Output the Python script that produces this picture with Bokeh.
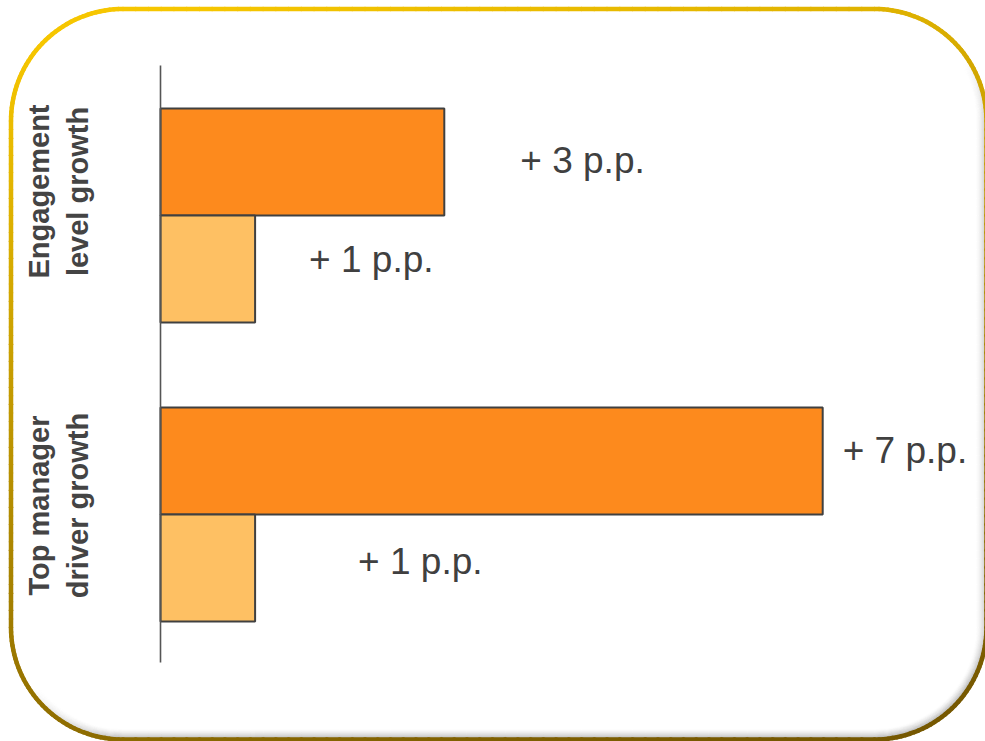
import numpy as np
from bokeh.plotting import figure
from bokeh.models import Range1d, ColumnDataSource
from bokeh.core.properties import value
from bokeh.embed import file_html
from bokeh.resources import INLINE

# ---- data -------------------------------------------------------------
categories = ["Engagement\nlevel growth", "Top manager\ndriver growth"]
dark_values = [3, 7]      # upper bar of each group
light_values = [1, 1]     # lower bar of each group
dark_labels = ["+ 3 p.p.", "+ 7 p.p."]
light_labels = ["+ 1 p.p.", "+ 1 p.p."]

# ---- layout constants (pixels) ----------------------------------------
W, H = 985, 741
X0_PX = 160          # pixel column of the value axis (zero)
PX_PER_UNIT = 94.6   # horizontal pixels per percentage point
Y0_PX = 215          # pixel row of the first group centre
PX_PER_GROUP = 299   # vertical distance between group centres
BAR_PX = 107         # bar thickness

def px2x(px):
    return (px - X0_PX) / PX_PER_UNIT

def py2y(py):
    return (py - Y0_PX) / PX_PER_GROUP

bar_h = BAR_PX / PX_PER_GROUP
half = bar_h / 2

p = figure(width=W, height=H, output_backend="svg", toolbar_location=None,
           x_range=Range1d(px2x(0), px2x(W)),
           y_range=Range1d(py2y(H), py2y(0)),
           x_axis_type=None, y_axis_type=None, min_border=0,
           outline_line_color=None, background_fill_color="white",
           border_fill_color="white")
p.grid.visible = False

# ---- rounded frame with gold gradient and soft inner shadow ------------
def rounded_path(L, T, R, B, r, n_arc=40, n_side=60):
    pts = []
    def arc(cx, cy, a0, a1):
        for a in np.linspace(a0, a1, n_arc):
            pts.append((cx + r * np.cos(a), cy + r * np.sin(a)))
    def line(x0, y0, x1, y1):
        for t in np.linspace(0, 1, n_side)[1:-1]:
            pts.append((x0 + (x1 - x0) * t, y0 + (y1 - y0) * t))
    # screen coords: y grows downward
    arc(L + r, T + r, np.pi, 1.5 * np.pi)
    line(L + r, T, R - r, T)
    arc(R - r, T + r, 1.5 * np.pi, 2 * np.pi)
    line(R, T + r, R, B - r)
    arc(R - r, B - r, 0, 0.5 * np.pi)
    line(R - r, B, L + r, B)
    arc(L + r, B - r, 0.5 * np.pi, np.pi)
    line(L, B - r, L, T + r)
    pts.append(pts[0])
    return np.array(pts)

L, T, R, B, RAD = 10.5, 8.5, 986.0, 739.0, 112

# inner shadow along the lower and right edges
sh_xs, sh_ys, sh_alpha = [], [], []
for k in range(1, 11):
    path = rounded_path(L + k, T + k, R - k, B - k, RAD - k)
    for i in range(len(path) - 1):
        (xa, ya), (xb, yb) = path[i], path[i + 1]
        dx, dy = xb - xa, yb - ya
        n = np.hypot(dx, dy) or 1
        nx, ny = dy / n, -dx / n        # outward normal
        w = max(0.0, 0.6 * nx + 0.9 * ny)
        w = min(w, 1.0)
        if w <= 0:
            continue
        sh_xs.append([px2x(xa), px2x(xb)])
        sh_ys.append([py2y(ya), py2y(yb)])
        sh_alpha.append(0.38 * w * (1 - k / 11) ** 1.6)
p.multi_line(xs=sh_xs, ys=sh_ys, line_color="#5a5a5a", line_alpha=sh_alpha,
             line_width=1.6)

path = rounded_path(L, T, R, B, RAD)
gold = np.array([246, 198, 0])
dark = np.array([118, 88, 0])
fx, fy, fc = [], [], []
for i in range(len(path) - 1):
    (xa, ya), (xb, yb) = path[i], path[i + 1]
    mx, my = (xa + xb) / 2, (ya + yb) / 2
    t = 0.85 * (my - T) / (B - T) + 0.25 * (mx - L) / (R - L) - 0.05
    t = float(np.clip(t, 0, 1))
    c = (gold * (1 - t) + dark * t).astype(int)
    fx.append([px2x(xa), px2x(xb)])
    fy.append([py2y(ya), py2y(yb)])
    fc.append("#%02x%02x%02x" % tuple(c))
p.multi_line(xs=fx, ys=fy, line_color=fc, line_width=4.5, line_cap="round")

# ---- bars ---------------------------------------------------------------
groups = np.arange(len(categories), dtype=float)
dark_src = ColumnDataSource(dict(y=groups - half, right=dark_values))
light_src = ColumnDataSource(dict(y=groups + half, right=light_values))
p.hbar(y="y", left=0, right="right", height=bar_h, source=dark_src,
       fill_color="#fd8a1d", line_color="#404040", line_width=2)
p.hbar(y="y", left=0, right="right", height=bar_h, source=light_src,
       fill_color="#fec063", line_color="#404040", line_width=2)

# value axis line
p.segment(x0=0, y0=py2y(65), x1=0, y1=py2y(662), line_color="#555555",
          line_width=1.6)

# ---- value labels ----------------------------------------------------------
dark_dx = [76, 20]       # pixel gap between bar end and label
light_dx = [54, 103]
dark_dy = [-2, -11]      # small vertical nudges (pixels)
light_dy = [-10, -7]
lab_src = ColumnDataSource(dict(
    x=list(dark_values) + list(light_values),
    y=[g - half + d / PX_PER_GROUP for g, d in zip(groups, dark_dy)] +
      [g + half + d / PX_PER_GROUP for g, d in zip(groups, light_dy)],
    dx=dark_dx + light_dx,
    text=dark_labels + light_labels,
))
p.text(x="x", y="y", text="text", x_offset="dx", source=lab_src,
       text_align="left", text_baseline="middle",
       text_font=value("Liberation Sans"), text_font_size="37px",
       text_color="#404040")

# ---- category labels (rotated) --------------------------------------------
cat_shift_px = [-24, -9]
p.text(x=[px2x(58)] * len(categories),
       y=[g + s / PX_PER_GROUP for g, s in zip(groups, cat_shift_px)],
       text=categories, angle=np.pi / 2, text_align="center",
       text_baseline="middle", text_font=value("Liberation Sans"),
       text_font_style="bold", text_font_size="29px", text_line_height=1.2,
       text_color="#444444")

open("out.html", "w").write(file_html(p, INLINE))
